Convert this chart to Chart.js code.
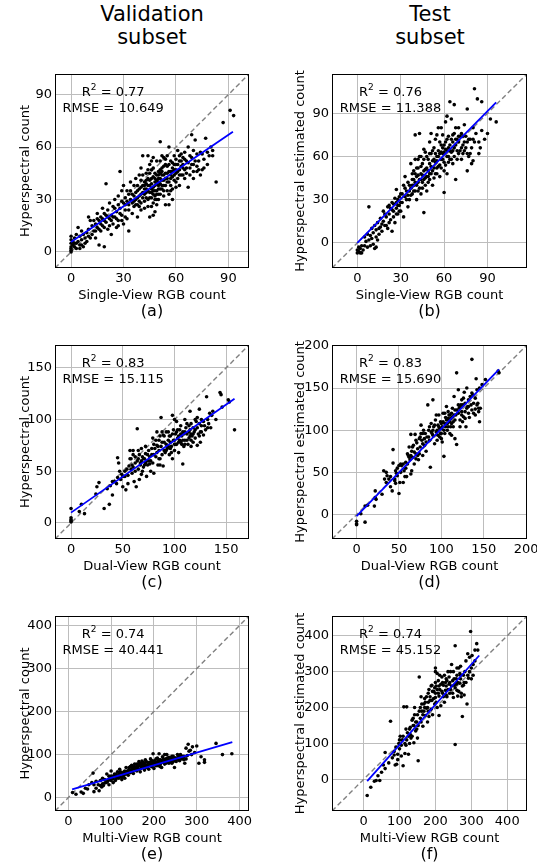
<!DOCTYPE html>
<html>
<head>
<meta charset="utf-8">
<script src="https://cdn.jsdelivr.net/npm/chart.js@4/dist/chart.umd.min.js"></script>
<style>
  body { margin: 0; background: #fff; width: 537px; height: 867px; position: relative; overflow: hidden; font-family: "DejaVu Sans", sans-serif; }
  canvas { position: absolute; }
  .col-title { position: absolute; width: 220px; text-align: center; font-size: 21px; line-height: 23px; color: #000; }
</style>
</head>
<body>
<div class="col-title" style="left:42px;top:3px">Validation<br>subset</div>
<div class="col-title" style="left:320px;top:3px">Test<br>subset</div>
<canvas id="pa"></canvas>
<canvas id="pb"></canvas>
<canvas id="pc"></canvas>
<canvas id="pd"></canvas>
<canvas id="pe"></canvas>
<canvas id="pf"></canvas>
<script>
// scatter points [x, y]
const valSingle = [[0,0],[0,1],[0,2],[0,3],[0,5],[0,7],[0,9],[1,4],[1,6],[2,3],[2,5],[2,8],[3,2],[3,5],[3,10],[4,6],[4,14],[5,2],[5,4],[5,9],[6,4],[6,7],[6,12],[7,3],[7,10],[8,5],[8,8],[9,11],[9,6],[10,9],[10,13],[10,20],[11,8],[11,18],[12,10],[12,15],[13,12],[13,18],[14,8],[14,16],[14,12],[15,22],[15,14],[15,19],[16,4],[16,13],[16,18],[17,20],[17,12],[17,16],[18,15],[18,25],[18,19],[19,3],[19,22],[19,14],[19,18],[20,17],[20,39],[20,21],[21,13],[21,24],[21,20],[22,19],[22,28],[22,15],[23,10],[23,21],[23,18],[24,26],[24,16],[24,20],[25,20],[25,30],[25,25],[26,23],[26,14],[26,19],[27,32],[27,18],[27,15],[27,27],[28,46],[28,25],[28,22],[29,21],[29,35],[29,29],[29,18],[30,28],[30,16],[30,38],[31,24],[31,31],[31,27],[31,20],[32,19],[32,35],[32,29],[33,27],[33,12],[33,33],[33,24],[34,30],[34,40],[34,35],[35,22],[35,33],[35,28],[36,38],[36,26],[36,32],[36,29],[37,30],[37,42],[37,34],[37,27],[38,35],[38,20],[38,31],[38,38],[38,27],[39,32],[39,44],[39,36],[39,29],[39,26],[40,37],[40,28],[40,48],[40,33],[40,41],[40,24],[41,34],[41,55],[41,38],[41,31],[41,44],[42,40],[42,25],[42,33],[42,36],[42,29],[42,38],[43,36],[43,45],[43,31],[43,41],[43,34],[43,39],[44,30],[44,55],[44,38],[44,42],[44,26],[44,35],[44,47],[45,38],[45,20],[45,50],[45,34],[45,45],[45,31],[45,41],[46,34],[46,42],[46,26],[46,36],[46,47],[46,39],[46,31],[46,52],[47,37],[47,48],[47,21],[47,33],[47,28],[47,43],[47,35],[47,54],[48,40],[48,30],[48,23],[48,35],[48,45],[48,38],[48,42],[48,32],[49,44],[49,35],[49,39],[49,30],[49,27],[49,41],[49,33],[49,52],[50,46],[50,38],[50,30],[50,33],[50,42],[50,36],[50,40],[50,44],[51,63],[51,42],[51,52],[51,36],[51,47],[51,39],[51,33],[51,45],[52,36],[52,48],[52,41],[52,44],[52,38],[52,46],[52,55],[53,44],[53,32],[53,38],[53,49],[53,41],[53,35],[53,54],[54,50],[54,27],[54,42],[54,45],[54,38],[54,53],[55,40],[55,55],[55,45],[55,35],[55,42],[55,49],[56,46],[56,27],[56,60],[56,40],[56,50],[56,33],[57,42],[57,52],[57,46],[57,44],[57,38],[57,35],[58,48],[58,36],[58,43],[58,51],[58,46],[58,30],[59,44],[59,55],[59,50],[59,41],[59,47],[60,50],[60,40],[60,45],[60,53],[60,47],[60,37],[61,46],[61,58],[61,42],[61,50],[62,52],[62,38],[62,47],[62,44],[62,55],[63,44],[63,56],[63,49],[63,52],[64,48],[64,50],[64,44],[64,54],[65,42],[65,53],[65,47],[65,57],[66,52],[66,45],[66,48],[67,37],[67,60],[67,51],[68,48],[68,55],[68,44],[69,67],[69,54],[69,50],[70,42],[70,50],[70,46],[70,58],[71,64],[71,52],[72,46],[72,56],[72,49],[73,52],[73,47],[74,44],[74,57],[75,47],[75,56],[76,53],[76,48],[77,65],[78,50],[78,57],[79,55],[80,60],[81,55],[81,58],[83,40],[87,74],[91,81],[93,78]];
const testSingle = [[0,-5],[0,-7],[1,-6],[1,-3],[2,-4],[2,-7],[3,-7],[3,-2],[4,-5],[5,-2],[5,4],[6,1],[7,-3],[7,6],[8,2],[8,25],[9,5],[9,-2],[10,10],[10,3],[11,7],[11,-1],[12,-4],[12,12],[13,9],[13,-3],[13,4],[14,14],[14,2],[15,6],[15,10],[16,11],[16,17],[17,8],[17,13],[18,15],[18,22],[19,12],[19,20],[20,18],[20,12],[21,25],[21,10],[22,20],[22,26],[22,14],[23,16],[23,24],[24,28],[24,8],[24,23],[25,22],[25,27],[25,18],[26,31],[26,14],[27,24],[27,37],[27,28],[27,20],[28,20],[28,30],[28,26],[29,26],[29,32],[29,22],[30,34],[30,22],[30,28],[31,28],[31,34],[32,40],[32,18],[33,32],[33,46],[33,38],[34,36],[34,30],[35,25],[35,42],[35,33],[36,30],[36,36],[36,40],[37,38],[37,55],[37,33],[38,44],[38,34],[38,40],[38,48],[39,40],[39,50],[39,44],[39,36],[40,36],[40,58],[40,75],[40,42],[40,48],[41,46],[41,30],[41,40],[41,52],[42,42],[42,52],[42,47],[42,36],[42,58],[43,38],[43,60],[43,76],[43,44],[44,48],[44,34],[44,44],[44,53],[44,60],[45,55],[45,42],[45,47],[45,38],[46,50],[46,21],[46,44],[46,58],[46,65],[47,40],[47,63],[47,51],[47,45],[48,52],[48,36],[48,46],[48,60],[49,46],[49,58],[49,50],[49,42],[50,55],[50,44],[50,48],[50,62],[50,70],[51,62],[51,76],[51,53],[51,48],[52,50],[52,40],[52,57],[52,64],[53,58],[53,66],[53,52],[53,45],[54,48],[54,72],[54,56],[54,62],[55,60],[55,52],[55,57],[55,48],[55,75],[56,64],[56,80],[56,60],[56,53],[57,54],[57,46],[57,62],[57,70],[58,68],[58,58],[58,63],[58,52],[58,80],[59,62],[59,75],[59,58],[59,66],[60,56],[60,50],[60,35],[60,63],[60,68],[61,70],[61,84],[61,65],[61,54],[62,60],[62,48],[62,64],[62,72],[62,88],[63,66],[63,74],[63,60],[63,56],[64,58],[64,98],[64,68],[64,64],[65,72],[65,86],[65,63],[65,58],[66,64],[66,55],[66,70],[66,75],[67,76],[67,96],[67,66],[67,60],[68,68],[68,44],[68,72],[68,80],[69,72],[69,64],[69,58],[70,62],[70,80],[70,70],[70,74],[71,74],[71,64],[72,58],[72,66],[72,76],[73,68],[73,74],[73,62],[74,82],[74,70],[74,64],[75,66],[75,74],[76,50],[76,70],[76,93],[76,62],[77,60],[77,72],[78,72],[78,62],[79,55],[79,66],[80,80],[80,57],[80,72],[81,70],[81,107],[82,76],[83,100],[84,62],[84,70],[85,66],[86,98],[86,78],[88,72],[90,76],[92,86],[96,84]];
const valDual = [[0,1],[0,2],[0,3],[0,5],[0,14],[8,11],[10,18],[13,9],[24,28],[25,35],[27,39],[32,14],[35,33],[37,18],[38,36],[40,27],[40,40],[42,40],[44,38],[45,63],[45,44],[46,58],[47,50],[48,42],[49,47],[50,35],[50,45],[52,50],[52,45],[53,32],[54,52],[55,46],[55,38],[56,55],[57,70],[57,62],[58,62],[58,52],[59,48],[59,56],[60,66],[60,54],[60,70],[61,40],[62,58],[62,64],[62,50],[63,35],[64,91],[64,60],[65,52],[65,62],[65,70],[66,42],[66,66],[67,56],[67,58],[68,60],[68,47],[68,72],[69,64],[69,50],[70,54],[70,62],[71,62],[71,56],[72,67],[72,58],[72,74],[73,45],[73,60],[74,56],[74,66],[75,70],[75,60],[76,64],[76,57],[77,50],[77,60],[78,66],[78,72],[79,82],[79,58],[80,48],[80,76],[80,66],[81,72],[82,64],[82,80],[83,88],[83,75],[83,68],[84,56],[84,74],[85,70],[85,80],[85,62],[86,62],[86,84],[86,56],[87,102],[87,74],[88,66],[88,78],[88,88],[89,85],[89,55],[90,78],[90,70],[90,84],[91,68],[92,88],[92,76],[92,70],[93,72],[94,80],[94,74],[94,88],[95,66],[95,84],[96,84],[96,78],[96,72],[97,74],[97,68],[98,104],[98,62],[98,86],[99,80],[99,90],[100,70],[100,80],[100,100],[100,76],[101,86],[101,76],[102,98],[102,76],[102,88],[103,82],[103,90],[104,68],[104,84],[104,78],[105,90],[105,80],[106,78],[106,86],[106,94],[107,84],[107,76],[108,57],[108,88],[108,80],[109,74],[109,86],[110,80],[110,88],[110,100],[110,76],[111,92],[112,86],[112,80],[112,96],[113,76],[114,82],[114,88],[114,94],[115,90],[115,84],[115,108],[116,96],[116,86],[116,80],[116,74],[117,84],[118,78],[118,92],[118,86],[119,88],[120,82],[120,90],[120,100],[121,98],[122,92],[122,75],[122,102],[123,86],[124,110],[124,96],[124,84],[125,88],[125,78],[126,94],[126,88],[126,100],[128,98],[128,85],[129,94],[130,90],[131,122],[132,92],[132,100],[133,96],[134,106],[135,92],[136,104],[137,108],[140,100],[144,126],[145,124],[146,112],[152,119],[153,117],[158,90]];
const testDual = [[0,-8],[0,-11],[0,-12],[5,1],[10,-9],[10,10],[13,11],[21,10],[22,28],[22,20],[23,18],[30,24],[32,52],[33,42],[35,38],[35,50],[36,46],[38,42],[40,33],[40,45],[42,28],[43,77],[43,61],[45,40],[45,42],[46,37],[46,52],[47,49],[48,55],[48,46],[50,25],[50,58],[51,38],[52,60],[52,50],[53,58],[55,38],[55,60],[56,52],[57,45],[58,55],[58,62],[59,45],[60,60],[60,72],[61,70],[62,80],[62,68],[63,65],[64,48],[64,95],[64,70],[65,75],[65,52],[66,68],[66,80],[67,82],[68,60],[68,74],[69,95],[70,72],[70,66],[70,88],[71,85],[72,78],[72,70],[73,65],[74,90],[74,72],[75,80],[75,92],[76,106],[76,96],[77,88],[78,70],[78,84],[78,96],[79,100],[80,82],[80,90],[81,96],[82,75],[82,86],[83,92],[84,130],[85,100],[85,92],[86,88],[86,104],[87,56],[88,108],[88,98],[89,96],[90,136],[90,100],[90,94],[91,104],[92,84],[92,106],[93,112],[94,98],[94,118],[95,88],[95,100],[96,106],[96,94],[97,118],[97,104],[98,92],[98,102],[99,110],[99,96],[100,102],[100,108],[100,96],[100,90],[101,86],[101,104],[102,120],[102,110],[103,69],[103,100],[104,108],[104,96],[104,120],[105,115],[105,104],[106,128],[106,112],[107,100],[107,108],[108,122],[108,104],[108,114],[109,112],[109,118],[110,118],[110,110],[110,96],[111,104],[111,114],[112,94],[112,120],[112,108],[113,126],[113,116],[114,110],[114,104],[115,140],[115,118],[116,90],[116,112],[116,124],[117,118],[118,168],[118,83],[118,124],[120,148],[120,120],[120,130],[121,126],[122,112],[122,128],[122,104],[123,130],[124,118],[124,122],[124,136],[125,110],[125,130],[126,138],[126,116],[127,145],[128,122],[128,132],[128,114],[129,104],[130,150],[130,126],[131,128],[132,136],[132,120],[132,128],[133,115],[134,140],[135,130],[136,184],[136,124],[136,144],[137,142],[138,120],[138,132],[140,125],[140,118],[140,138],[141,161],[142,148],[142,130],[143,132],[144,122],[144,126],[145,110],[145,150],[146,126],[148,154],[152,160],[167,170],[168,168]];
const valMulti = [[10,12],[18,8],[30,13],[35,10],[40,22],[45,20],[48,30],[55,35],[58,57],[60,14],[60,30],[65,38],[65,22],[70,30],[72,16],[75,40],[75,28],[78,25],[80,32],[80,45],[82,28],[85,42],[85,34],[88,35],[90,55],[90,36],[92,38],[95,30],[95,42],[95,50],[98,45],[100,62],[100,40],[100,50],[102,48],[105,35],[105,44],[105,50],[108,55],[110,50],[110,40],[112,44],[112,55],[115,60],[115,48],[118,52],[118,45],[120,48],[120,66],[120,56],[122,60],[125,56],[125,42],[125,48],[128,50],[128,58],[130,60],[130,52],[132,45],[132,62],[135,70],[135,55],[135,60],[138,62],[138,56],[140,52],[140,60],[142,66],[142,70],[145,58],[145,64],[145,72],[148,75],[148,62],[150,68],[150,60],[150,72],[152,56],[152,68],[155,72],[155,66],[155,78],[158,64],[158,70],[160,62],[160,78],[160,70],[162,70],[162,76],[165,74],[165,84],[165,66],[165,80],[168,60],[168,76],[170,80],[170,68],[170,74],[172,85],[172,70],[175,72],[175,78],[175,82],[178,64],[178,80],[180,76],[180,88],[180,72],[182,70],[182,84],[185,82],[185,76],[185,70],[188,66],[188,80],[190,78],[190,82],[192,90],[192,74],[195,72],[195,80],[195,86],[198,102],[198,84],[198,78],[200,76],[200,68],[200,84],[202,86],[202,80],[205,80],[205,74],[205,90],[208,92],[208,82],[210,74],[210,86],[212,82],[212,102],[212,88],[215,88],[215,78],[215,72],[218,70],[218,86],[220,95],[220,82],[222,84],[222,90],[225,78],[225,88],[225,100],[225,82],[228,90],[228,80],[230,100],[230,86],[232,82],[232,92],[235,88],[235,80],[235,94],[238,84],[240,92],[240,86],[242,80],[242,96],[245,96],[245,84],[245,90],[248,70],[248,88],[250,86],[250,92],[252,92],[252,84],[255,100],[255,90],[258,88],[258,96],[260,86],[262,94],[262,100],[265,90],[265,96],[268,92],[270,96],[270,88],[272,80],[275,115],[275,90],[278,98],[280,124],[282,108],[285,110],[288,100],[290,118],[295,105],[300,120],[305,80],[310,95],[318,88],[318,82],[345,126],[360,100],[382,102]];
const testMulti = [[10,-45],[20,-22],[30,-5],[35,-3],[40,10],[45,-3],[50,20],[55,40],[60,30],[60,75],[70,46],[75,162],[80,60],[85,78],[85,68],[88,40],[90,90],[92,42],[95,70],[95,55],[98,100],[100,85],[100,110],[102,120],[105,65],[105,95],[108,110],[110,38],[110,120],[112,202],[115,72],[115,100],[118,95],[118,140],[120,202],[120,110],[122,130],[125,70],[125,120],[128,100],[128,140],[130,145],[130,125],[132,115],[135,165],[135,120],[138,150],[138,170],[140,102],[140,150],[142,200],[142,180],[145,135],[145,160],[148,160],[148,140],[150,115],[150,180],[152,52],[152,150],[155,285],[155,190],[158,170],[158,200],[160,230],[160,160],[162,190],[162,210],[165,148],[165,180],[168,210],[168,190],[170,225],[170,200],[172,178],[172,215],[175,198],[175,230],[178,160],[178,200],[180,240],[180,215],[180,190],[182,175],[182,250],[185,220],[185,230],[188,195],[188,260],[190,262],[190,220],[192,180],[192,245],[195,245],[195,225],[198,210],[198,255],[200,300],[200,228],[200,240],[200,310],[200,270],[202,260],[202,215],[205,200],[205,295],[205,250],[208,275],[208,240],[210,232],[210,178],[210,260],[212,250],[212,290],[215,205],[215,265],[218,285],[218,245],[220,240],[220,270],[222,262],[222,230],[225,215],[225,290],[228,248],[228,270],[230,280],[230,260],[230,235],[232,230],[232,275],[235,300],[235,250],[238,265],[238,285],[240,240],[240,270],[242,250],[242,300],[245,320],[245,260],[248,275],[248,240],[250,228],[250,300],[252,262],[252,280],[255,372],[255,97],[255,255],[258,280],[258,265],[260,248],[260,290],[260,310],[262,232],[262,270],[265,310],[265,245],[268,268],[268,295],[270,290],[270,315],[270,280],[272,240],[272,230],[275,175],[275,260],[278,262],[278,290],[280,235],[280,270],[282,300],[285,270],[285,330],[288,210],[290,350],[290,290],[292,282],[295,300],[295,340],[298,412],[300,280],[300,310],[302,345],[305,320],[305,290],[310,360],[310,330],[315,378],[318,360]];

// fitted regression lines [x, y] at both ends
const fitValSingle = [[0, 5.7], [92.6, 68.8]];
const fitTestSingle = [[0, 0], [96, 97.6]];
const fitValDual = [[0, 10], [158, 120]];
const fitTestDual = [[0, -2], [168, 172]];
const fitValMulti = [[9, 19], [383, 129]];
const fitTestMulti = [[10, -5], [322, 345]];

// axis limits and ticks
const limValSingle = [-9.2, 101.8];
const limTestSingle = [-17.5, 117.3];
const limValDual = [-15.5, 172];
const limTestDual = [-29, 201];
const limValMulti = [-31, 422];
const limTestMulti = [-88, 455];
const ticksSingle = [0, 30, 60, 90];
const ticksValDual = [0, 50, 100, 150];
const ticksTestDual = [0, 50, 100, 150, 200];
const ticksMulti = [0, 100, 200, 300, 400];

const scores = {
  a: ["0.77", "10.649"], b: ["0.76", "11.388"],
  c: ["0.83", "15.115"], d: ["0.83", "15.690"],
  e: ["0.74", "40.441"], f: ["0.74", "45.152"]
};

const FONT = "DejaVu Sans";

function frameText(tag) {
  return {
    id: "frameText",
    afterDatasetsDraw(chart) {
      const { ctx, chartArea: a } = chart;
      ctx.save();
      ctx.strokeStyle = "#000";
      ctx.lineWidth = 1;
      ctx.strokeRect(Math.round(a.left) + 0.5, Math.round(a.top) + 0.5,
        Math.round(a.right - a.left) - 1, Math.round(a.bottom - a.top) - 1);

      const [r2, rmse] = scores[tag];
      const cx = a.left + 0.30 * (a.right - a.left);
      const y1 = a.top + 0.094 * (a.bottom - a.top);
      const y2 = a.top + 0.177 * (a.bottom - a.top);
      ctx.fillStyle = "#000";
      ctx.textBaseline = "middle";
      ctx.textAlign = "left";
      ctx.font = `13px "${FONT}"`;
      const rest = " = " + r2;
      const wR = ctx.measureText("R").width;
      const wRest = ctx.measureText(rest).width;
      ctx.font = `9px "${FONT}"`;
      const wSup = ctx.measureText("2").width;
      let x = cx - (wR + wSup + wRest) / 2;
      ctx.font = `13px "${FONT}"`;
      ctx.fillText("R", x, y1);
      x += wR;
      ctx.font = `9px "${FONT}"`;
      ctx.fillText("2", x, y1 - 5);
      x += wSup;
      ctx.font = `13px "${FONT}"`;
      ctx.fillText(rest, x, y1);
      ctx.textAlign = "center";
      ctx.fillText("RMSE = " + rmse, cx, y2);

      // panel tag under the x label
      ctx.font = `16px "${FONT}"`;
      ctx.fillText("(" + tag + ")", (a.left + a.right) / 2, chart.height - 12.3);
      ctx.restore();
    }
  };
}

function axis(lim, ticks, extra) {
  return Object.assign({
    type: "linear",
    min: lim[0],
    max: lim[1],
    afterBuildTicks: (s) => { s.ticks = ticks.map((v) => ({ value: v })); },
    grid: { color: "#bdbdbd", lineWidth: 1, drawTicks: false },
    border: { display: false },
    ticks: { font: { family: FONT, size: 13 }, color: "#000", padding: 3 }
  }, extra);
}

function panel(id, tag, opt) {
  const cv = document.getElementById(id);
  const [x0, y0, x1, y1] = opt.canvas;
  const [l, t, r, b] = opt.box;
  cv.width = x1 - x0;
  cv.height = y1 - y0;
  cv.style.left = x0 + "px";
  cv.style.top = y0 + "px";
  const titleFont = { family: FONT, size: 13, lineHeight: 1.3 };
  const lim = opt.lim;

  new Chart(cv, {
    type: "scatter",
    data: {
      datasets: [
        {
          data: opt.fit.map(([x, y]) => ({ x, y })),
          showLine: true, borderColor: "#0000ff", borderWidth: 1.8, pointRadius: 0
        },
        {
          data: opt.points.map(([x, y]) => ({ x, y })),
          pointRadius: 1.8, pointBackgroundColor: "#000", pointBorderWidth: 0
        },
        {
          data: [{ x: lim[0], y: lim[0] }, { x: lim[1], y: lim[1] }],
          showLine: true, borderColor: "#808080", borderWidth: 1.4, borderDash: [5, 3], pointRadius: 0
        }
      ]
    },
    options: {
      responsive: false,
      animation: false,
      devicePixelRatio: 1,
      events: [],
      layout: { padding: { top: t - y0, right: x1 - r, left: 0, bottom: 0 } },
      plugins: { legend: { display: false }, tooltip: { enabled: false } },
      scales: {
        x: axis(lim, opt.xticks, {
          afterFit: (s) => { s.height = y1 - b; s.paddingLeft = 0; s.paddingRight = 0; },
          title: { display: true, text: opt.xlabel, font: titleFont, color: "#000", padding: { top: 0, bottom: 20 } }
        }),
        y: axis(lim, opt.yticks, {
          afterFit: (s) => { s.width = l - x0; s.paddingTop = 0; s.paddingBottom = 0; },
          title: { display: true, text: opt.ylabel, font: titleFont, color: "#000", padding: { top: opt.ytitlePad, bottom: 0 } }
        })
      }
    },
    plugins: [frameText(tag)]
  });
}

const col1 = { x0: 0, x1: 265, l: 55, r: 249, ylabel: "Hyperspectral count", ytitlePad: 17 };
const col2 = { x0: 268, x1: 537, l: 332, r: 527, ylabel: "Hyperspectral estimated count", ytitlePad: 24.5 };
const row1 = { y0: 60, y1: 324, t: 74, b: 268, xlabel: "Single-View RGB count" };
const row2 = { y0: 330, y1: 595, t: 345, b: 539, xlabel: "Dual-View RGB count" };
const row3 = { y0: 600, y1: 867, t: 616, b: 811, xlabel: "Multi-View RGB count" };

function cell(col, row, rest) {
  return Object.assign({
    canvas: [col.x0, row.y0, col.x1, row.y1],
    box: [col.l, row.t, col.r, row.b],
    xlabel: row.xlabel,
    ylabel: col.ylabel,
    ytitlePad: col.ytitlePad
  }, rest);
}

panel("pa", "a", cell(col1, row1, { points: valSingle, fit: fitValSingle, lim: limValSingle, xticks: ticksSingle, yticks: ticksSingle }));
panel("pb", "b", cell(col2, row1, { points: testSingle, fit: fitTestSingle, lim: limTestSingle, xticks: ticksSingle, yticks: ticksSingle }));
panel("pc", "c", cell(col1, row2, { points: valDual, fit: fitValDual, lim: limValDual, xticks: ticksValDual, yticks: ticksValDual }));
panel("pd", "d", cell(col2, row2, { points: testDual, fit: fitTestDual, lim: limTestDual, xticks: ticksTestDual, yticks: ticksTestDual }));
panel("pe", "e", cell(col1, row3, { points: valMulti, fit: fitValMulti, lim: limValMulti, xticks: ticksMulti, yticks: ticksMulti }));
panel("pf", "f", cell(col2, row3, { points: testMulti, fit: fitTestMulti, lim: limTestMulti, xticks: ticksMulti, yticks: ticksMulti }));
</script>
</body>
</html>
